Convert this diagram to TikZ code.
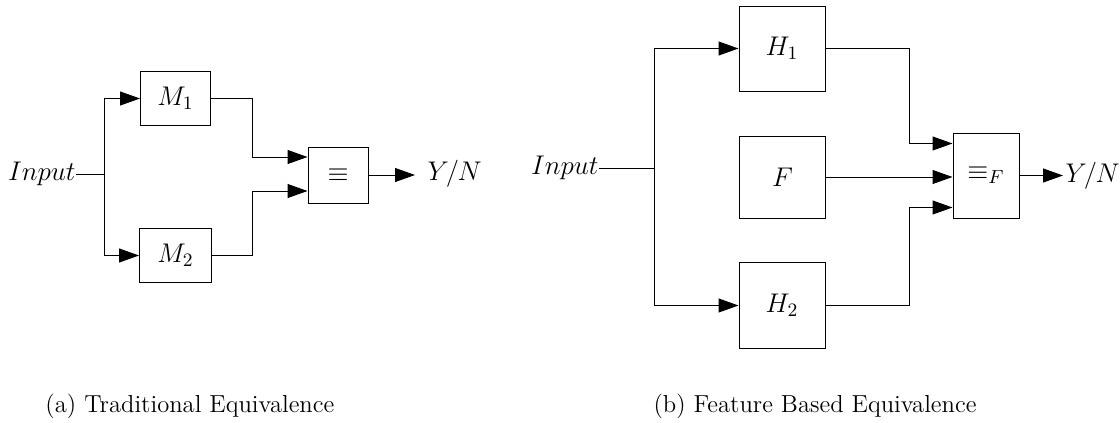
\RequirePackage{fix-cm}
\documentclass[tikz,border=0pt]{standalone}
\usetikzlibrary{arrows.meta,calc}
\begin{document}
\begin{tikzpicture}[x=0.5pt,y=-0.5pt,line width=0.5pt,
  >={Triangle[length=10pt,width=7pt]},
  mathfont/.style={font=\fontsize{13.5}{16}\selectfont},
  lbl/.style={mathfont,inner sep=0pt},
  blk/.style={draw,mathfont,inner sep=0pt},
  captxt/.style={font=\fontsize{12.3}{14}\selectfont,inner sep=0pt,anchor=base west}]
\useasboundingbox (0,0) rectangle (1120,423);
% ---------- (a) ----------
\node[lbl,anchor=east] (inA) at (76,174) {$Input$};
\coordinate (jA) at (104,174);
\node[blk,minimum width=35pt,minimum height=27pt] (M1) at (175.5,98.5) {$M_1$};
\node[blk,minimum width=36pt,minimum height=27pt] (M2) at (175.5,255.5) {$M_2$};
\node[blk,minimum width=30pt,minimum height=28pt] (eq) at (338,175) {$\equiv$};
\node[lbl,anchor=west,inner sep=6pt] (ynA) at (415,174) {$Y/N$};
\coordinate (bA) at (252,0);
\draw (inA.east) -- (jA);
\draw[->] (jA) |- (M1.west);
\draw[->] (jA) |- (M2.west);
\draw[->] (M1.east) -- (M1.east -| bA) |- ([yshift=9pt]eq.west);
\draw[->] (M2.east) -- (M2.east -| bA) |- ([yshift=-8pt]eq.west);
\draw[->] (eq.east) -- (eq.east -| ynA.west);
\node[captxt] (capA) at (45,412) {(a) Traditional Equivalence};
% ---------- (b) ----------
\node[lbl,anchor=east] (inB) at (599,168) {$Input$};
\coordinate (jB) at (654.5,168);
\node[blk,minimum width=43pt,minimum height=42.5pt] (H1) at (782,48.5) {$H_1$};
\node[blk,minimum width=43pt,minimum height=41pt] (F) at (782.5,177) {$F$};
\node[blk,minimum width=43pt,minimum height=43pt] (H2) at (782,305.5) {$H_2$};
\node[blk,minimum width=33pt,minimum height=42.5pt] (eqF) at (986,175.5) {$\equiv_F$};
\node[lbl,anchor=west,inner sep=1pt] (ynB) at (1063,175.5) {$Y/N$};
\coordinate (bB) at (909,0);
\draw (inB.east) -- (jB);
\draw[->] (jB) |- (H1.west);
\draw[->] (jB) |- (H2.west);
\draw[->] (H1.east) -- (H1.east -| bB) |- ([yshift=16pt]eqF.west);
\draw[->] (F.east) -- (F.east -| eqF.west);
\draw[->] (H2.east) -- (H2.east -| bB) |- ([yshift=-16pt]eqF.west);
\draw[->] (eqF.east) -- (ynB.west);
\node[captxt] (capB) at (653,412) {(b) Feature Based Equivalence};
\end{tikzpicture}
\end{document}
